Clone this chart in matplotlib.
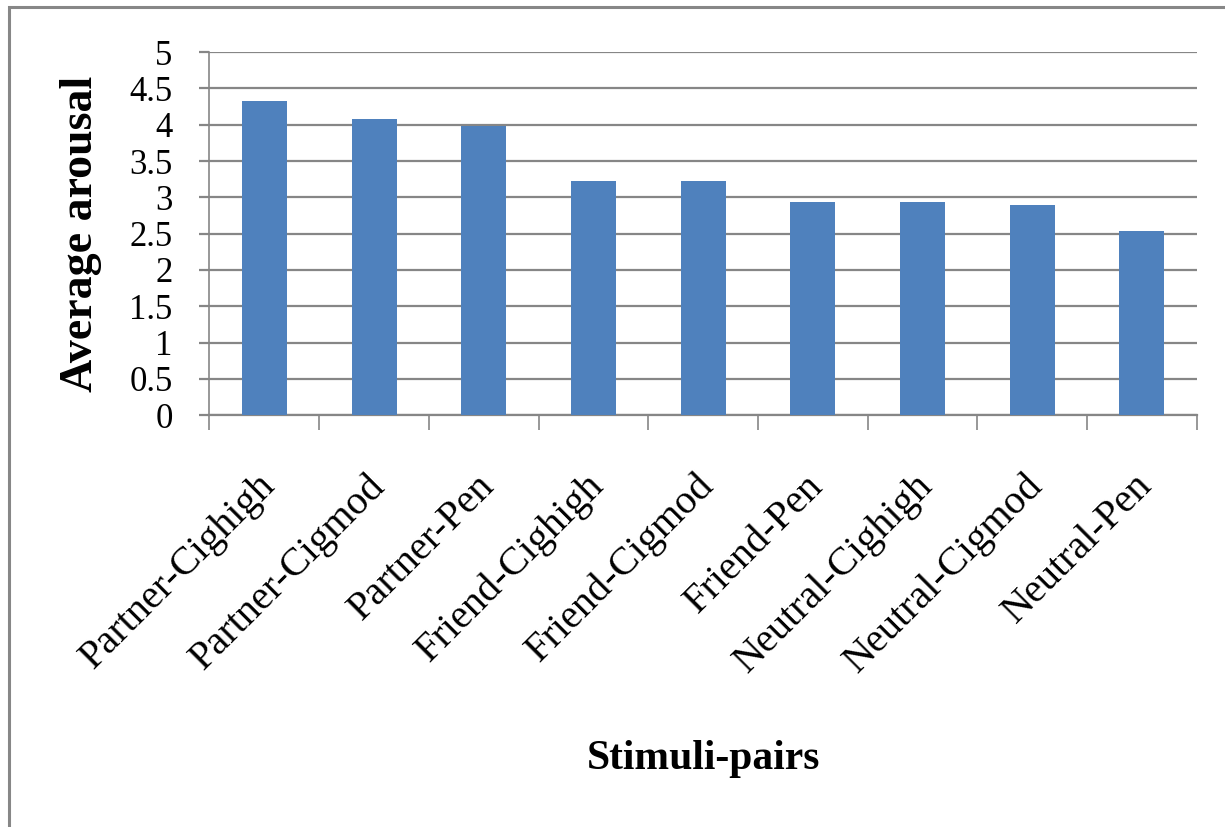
import matplotlib
matplotlib.use("Agg")
import matplotlib.pyplot as plt
import matplotlib.transforms as mtransforms
from matplotlib.patches import Rectangle

plt.rcParams["font.family"] = ["Liberation Serif", "DejaVu Serif"]

# average arousal per stimulus pair
pairs = ["Partner-Cighigh", "Partner-Cigmod", "Partner-Pen",
         "Friend-Cighigh", "Friend-Cigmod", "Friend-Pen",
         "Neutral-Cighigh", "Neutral-Cigmod", "Neutral-Pen"]
arousal = [4.33, 4.08, 3.98, 3.22, 3.22, 2.93, 2.93, 2.90, 2.54]
yticks = [0, 0.5, 1, 1.5, 2, 2.5, 3, 3.5, 4, 4.5, 5]
ytick_labels = ["0", "0.5", "1", "1.5", "2", "2.5", "3", "3.5", "4", "4.5", "5"]

grey = "#868686"
bar_blue = "#4F81BD"

fig = plt.figure(figsize=(12.25, 8.27), dpi=100)
ax = fig.add_axes([0.171, 0.498, 0.806, 0.439])

x = list(range(len(pairs)))
ax.bar(x, arousal, width=0.41, color=bar_blue, zorder=3)

ax.set_xlim(-0.5, len(pairs) - 0.5)
ax.set_ylim(0, 5)

# horizontal grid, drawn as lines so they poke out left like tick marks
ax.set_yticks(yticks)
ax.set_yticklabels(ytick_labels, fontsize=25)
ax.yaxis.grid(True, color=grey, lw=1.6, zorder=1)
ax.tick_params(axis="y", length=7.5, width=1.6, color=grey, pad=19)

# category boundary ticks on the x axis
ax.set_xticks([i - 0.5 for i in range(len(pairs) + 1)], minor=False)
ax.set_xticklabels([""] * (len(pairs) + 1))
ax.tick_params(axis="x", length=11, width=1.2, color=grey)
ax.set_xticks(x, minor=True)
ax.set_xticklabels(pairs, minor=True, rotation=45, ha="right",
                   rotation_mode="anchor", fontsize=29)
ax.tick_params(axis="x", which="minor", length=0, pad=0)
shift = mtransforms.ScaledTranslation(-8 / 100, -52 / 100, fig.dpi_scale_trans)
for lab in ax.get_xticklabels(minor=True):
    lab.set_transform(lab.get_transform() + shift)

for side in ("top", "right"):
    ax.spines[side].set_visible(False)
ax.spines["left"].set_color(grey)
ax.spines["left"].set_linewidth(1.2)
ax.spines["bottom"].set_color(grey)
ax.spines["bottom"].set_linewidth(1.6)

ax.set_ylabel("Average arousal", fontsize=33, fontweight="bold", labelpad=20)
ax.set_xlabel("Stimuli-pairs", fontsize=30, fontweight="bold")
ax.xaxis.set_label_coords(0.5, -0.895)

# outer chart frame
fig.patches.append(Rectangle((9 / 1225, -0.05), 1.1, 1.05 - 7 / 827,
                             transform=fig.transFigure, fill=False,
                             edgecolor="#878787", lw=2.2))

fig.savefig("out.png", dpi=100)
